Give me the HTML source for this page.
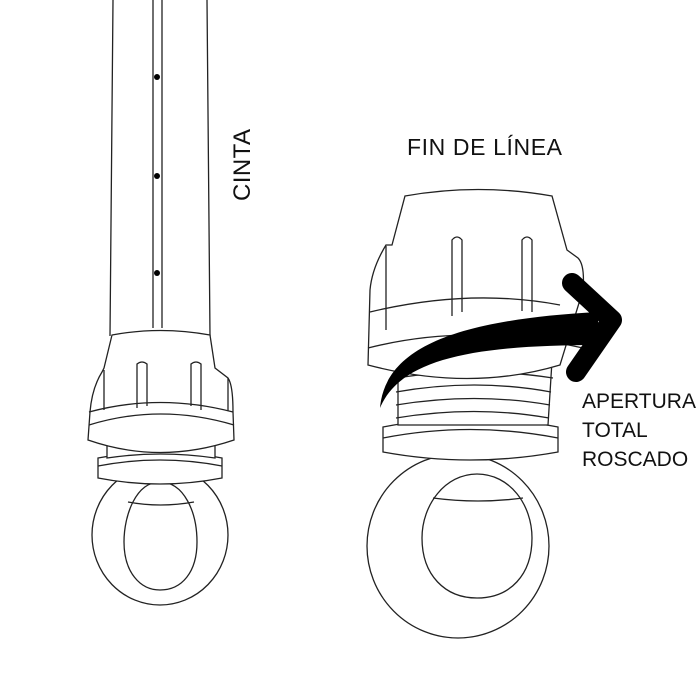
<!DOCTYPE html>
<html><head><style>body{margin:0;background:#fff}svg{display:block}</style></head><body>
<svg width="700" height="700" viewBox="0 0 700 700" xmlns="http://www.w3.org/2000/svg" font-family="Liberation Sans, sans-serif">
<g fill="#fff" stroke="#222" stroke-width="1.3">
<path d="M113 0 L110 336 M207 0 L210 336"/>
<path d="M153 0 V328 M162 0 V328"/>
<ellipse cx="160" cy="535" rx="68" ry="70"/>
<path d="M160 482 C136 482 124 515 124 542 C124 572 140 590 160 590 C182 590 197 572 197 542 C197 512 184 482 160 482 Z"/>
<path d="M128 502 Q160 508 194 502" fill="none"/>
<path d="M98 458 Q160 446 222 458 V478 Q160 490 98 478 Z"/>
<path d="M98 466 Q160 454 222 466" fill="none"/>
<path d="M107 435 Q160 426 215 435 V458 Q160 450 107 458 Z"/>
<path d="M110 444 Q160 436 212 444" fill="none"/>
<path d="M112 335 Q160 326 210 335 L215 368 L228 378 Q233 385 233 412 L234 440 Q160 465 88 440 L90 412 Q92 388 102 372 L104 368 Z"/>
<path d="M89 425 Q160 403 234 425 M89 412 Q160 393 233 412" fill="none"/>
<path d="M104 370 V410 M228 378 V411 M137 408 V364 Q142 360 147 364 V406 M191 406 V364 Q196 360 201 364 V410" fill="none"/>
<ellipse cx="458" cy="546" rx="91" ry="92"/>
<path d="M477 474 C445 474 422 505 422 538 C422 575 445 598 477 598 C510 598 532 575 532 538 C532 505 510 474 477 474 Z"/>
<path d="M433 498 Q478 504 523 498" fill="none"/>
<path d="M383 427 Q470 410 558 427 V452 Q470 468 383 452 Z"/>
<path d="M383 438 Q470 421 558 438" fill="none"/>
<path d="M398 345 L553 345 L548 425 L398 425 Z"/>
<path d="M396 365 Q475 352 555 365 M396 378 Q475 366 553 378 M396 392 Q475 378 551 392 M396 405 Q475 392 550 405 M396 418 Q475 405 549 418" fill="none"/>
<path d="M405 196 Q478 183 552 196 L567 250 L578 258 Q585 265 583 290 L560 365 Q470 392 368 365 L370 290 Q372 268 386 245 L392 245 Z"/>
<path d="M368 348 Q470 322 583 348 M370 312 Q470 288 560 305" fill="none"/>
<path d="M386 246 V330 M452 316 V240 Q457 234 462 240 V312 M522 311 V240 Q527 234 532 240 V312" fill="none"/>
</g>
<g fill="#000">
<circle cx="157" cy="77" r="3"/><circle cx="157" cy="176" r="3"/><circle cx="157" cy="273" r="3"/>
<path d="M380 408 C385 350 450 320 598 312 L598 345 C470 345 400 360 380 408 Z"/>
</g>
<path d="M572 283 L612 320 L576 372" fill="none" stroke="#000" stroke-width="20" stroke-linecap="round" stroke-linejoin="round"/>
<g fill="#111" font-size="21">
<text x="407" y="155" font-size="23" textLength="155">FIN DE LÍNEA</text>
<text transform="translate(250,201) rotate(-90)" font-size="24" textLength="72">CINTA</text>
<text x="582" y="408">APERTURA</text>
<text x="582" y="437">TOTAL</text>
<text x="582" y="466">ROSCADO</text>
</g>
</svg>
</body></html>
